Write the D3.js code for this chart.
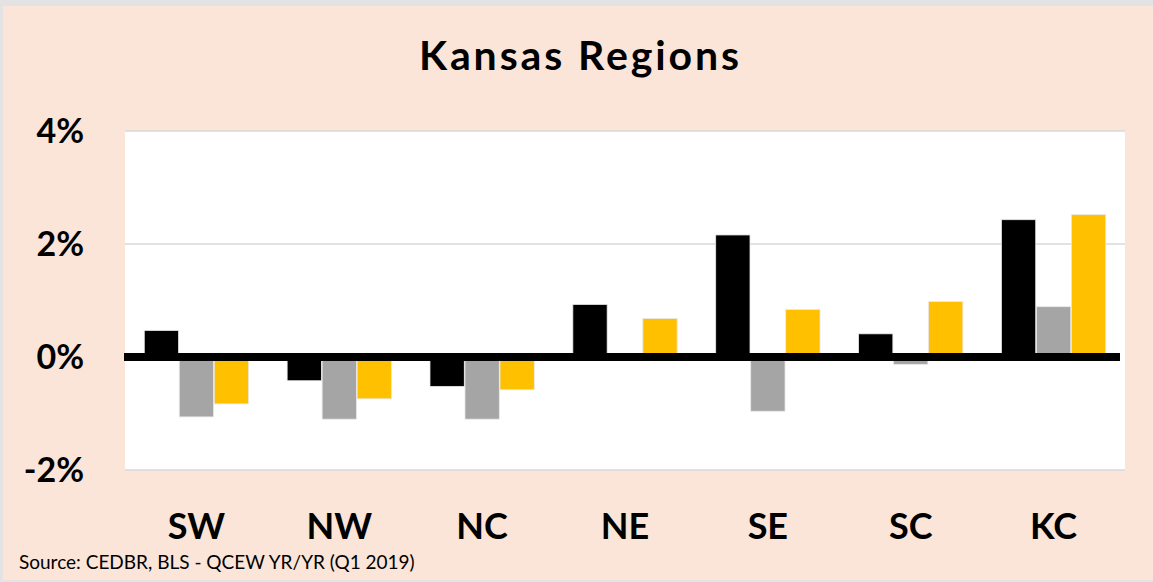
<!DOCTYPE html>
<html>
<head>
<meta charset="utf-8">
<script src="https://cdn.jsdelivr.net/npm/d3@7"></script>
<style>
  html, body { margin: 0; padding: 0; background: #fff; }
  svg { display: block; }
</style>
</head>
<body>
<div id="chart"></div>
<script>
// data (percent, year over year)
var regions = ["SW", "NW", "NC", "NE", "SE", "SC", "KC"];
var seriesBlack = [0.47, -0.42, -0.52, 0.93, 2.16, 0.41, 2.43];
var seriesGray = [-1.06, -1.10, -1.10, 0.00, -0.96, -0.13, 0.89];
var seriesGold = [-0.83, -0.74, -0.58, 0.68, 0.84, 0.98, 2.52];
var yTicks = [-2, 0, 2, 4];

var seriesNames = ["black", "gray", "gold"];
var seriesColors = ["#000000", "#a5a5a5", "#ffc000"];
var allSeries = [seriesBlack, seriesGray, seriesGold];

var width = 1153;
var height = 582;

var svg = d3.select("#chart").append("svg")
    .attr("width", width)
    .attr("height", height);

// outer frame + peach background
svg.append("rect")
    .attr("x", 0).attr("y", 0)
    .attr("width", width).attr("height", height)
    .attr("fill", "#e3e3e3");
svg.append("rect")
    .attr("x", 3).attr("y", 6)
    .attr("width", width - 3).attr("height", 574)
    .attr("fill", "#fae5d8");

var plotLeft = 125, plotRight = 1125, plotTop = 131, plotBottom = 470;

svg.append("rect")
    .attr("x", plotLeft).attr("y", plotTop)
    .attr("width", plotRight - plotLeft).attr("height", plotBottom - plotTop)
    .attr("fill", "#ffffff");

var x = d3.scaleBand()
    .domain(regions)
    .range([plotLeft, plotRight])
    .paddingInner(0.26)
    .paddingOuter(0.13);

var xInner = d3.scaleBand()
    .domain(seriesNames)
    .range([0, x.bandwidth()])
    .padding(0.02);

var y = d3.scaleLinear()
    .domain([-2, 4])
    .range([plotBottom, plotTop]);

// gridlines
svg.append("g")
    .selectAll("line")
    .data(yTicks.filter(function(d) { return d !== 0; }))
    .enter()
    .append("line")
    .attr("x1", plotLeft)
    .attr("x2", plotRight)
    .attr("y1", function(d) { return y(d); })
    .attr("y2", function(d) { return y(d); })
    .attr("stroke", "#d9d9d9")
    .attr("stroke-width", 1.5);

// bars
var rows = [];
regions.forEach(function(r, i) {
  seriesNames.forEach(function(s, j) {
    rows.push({ region: r, series: s, value: allSeries[j][i], color: seriesColors[j] });
  });
});

svg.append("g")
    .selectAll("rect")
    .data(rows.filter(function(d) { return d.value !== 0; }))
    .enter()
    .append("rect")
    .attr("x", function(d) { return x(d.region) + xInner(d.series); })
    .attr("y", function(d) { return y(Math.max(0, d.value)); })
    .attr("width", xInner.bandwidth())
    .attr("height", function(d) { return Math.abs(y(d.value) - y(0)); })
    .attr("fill", function(d) { return d.color; })
    .attr("stroke", "#e8e8e8")
    .attr("stroke-width", 0.8);

// thick zero line
svg.append("line")
    .attr("x1", plotLeft - 1)
    .attr("x2", plotRight - 5)
    .attr("y1", y(0))
    .attr("y2", y(0))
    .attr("stroke", "#000000")
    .attr("stroke-width", 8);

var font = "Lato, 'Open Sans', sans-serif";

// y tick labels
svg.append("g")
    .selectAll("text")
    .data(yTicks)
    .enter()
    .append("text")
    .attr("x", 84)
    .attr("y", function(d) { return y(d); })
    .attr("dy", "0.36em")
    .attr("text-anchor", "end")
    .attr("font-family", font)
    .attr("font-weight", "bold")
    .attr("font-size", "34px")
    .attr("fill", "#000")
    .text(function(d) { return d + "%"; });

// category labels
svg.append("g")
    .selectAll("text")
    .data(regions)
    .enter()
    .append("text")
    .attr("x", function(d) { return x(d) + x.bandwidth() / 2; })
    .attr("y", 539)
    .attr("text-anchor", "middle")
    .attr("font-family", font)
    .attr("font-weight", "bold")
    .attr("font-size", "36px")
    .attr("fill", "#000")
    .text(function(d) { return d; });

// title
svg.append("text")
    .attr("x", 579)
    .attr("y", 70)
    .attr("text-anchor", "middle")
    .attr("font-family", font)
    .attr("font-weight", "bold")
    .attr("font-size", "41px")
    .attr("textLength", 320)
    .attr("lengthAdjust", "spacing")
    .attr("fill", "#000")
    .text("Kansas Regions");

// source note
svg.append("text")
    .attr("x", 19)
    .attr("y", 569)
    .attr("font-family", font)
    .attr("font-size", "19px")
    .attr("fill", "#000")
    .text("Source: CEDBR, BLS - QCEW YR/YR (Q1 2019)");
</script>
</body>
</html>
